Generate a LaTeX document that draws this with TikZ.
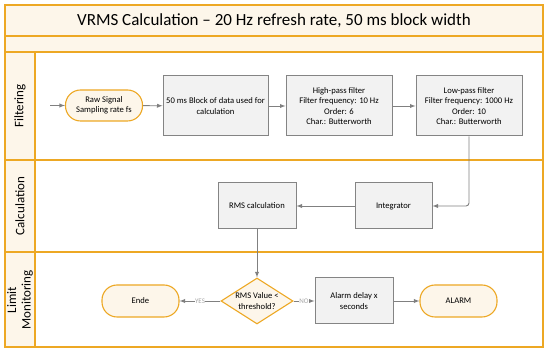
\documentclass[tikz,border=0pt]{standalone}
\usepackage{fontspec}
\setmainfont{Carlito}
\usetikzlibrary{shapes.geometric}
\definecolor{laneorange}{RGB}{237,168,36}
\definecolor{lanecream}{RGB}{253,246,234}
\definecolor{boxgrey}{RGB}{132,132,132}
\definecolor{boxfill}{RGB}{242,242,242}
\definecolor{arrowgrey}{RGB}{128,128,128}
\begin{document}
\begin{tikzpicture}[
      x=1pt,y=-1pt,
      every node/.style={font=\fontsize{8.6}{10.3}\selectfont,align=center},
      lane/.style={draw=laneorange,line width=1.4pt},
      lanelabel/.style={rotate=90,font=\fontsize{13}{14.5}\selectfont},
      procbox/.style={draw=boxgrey,fill=boxfill,line width=1pt,minimum width=#1,minimum height=60pt,inner sep=1pt},
      procbox/.default=105pt,
      pill/.style={draw=laneorange,fill=lanecream,line width=1.1pt,rounded corners=15pt,minimum width=77pt,minimum height=31pt},
      decision/.style={diamond,draw=laneorange,fill=lanecream,line width=1.1pt,minimum width=72pt,minimum height=46pt,inner sep=0pt},
      flow/.style={draw=arrowgrey,line width=0.9pt,-latex},
      answer/.style={font=\fontsize{7}{8}\selectfont,text=arrowgrey!70,fill=white,inner sep=0.5pt}
    ]
    \useasboundingbox (0,0) rectangle (550,352);
    % swimlane frame
    \fill[lanecream] (5,5) rectangle (543,52);
    \fill[lanecream] (5,52) rectangle (35,347);
    \draw[lane] (5,5) rectangle (543,347);
    \draw[lane] (5,36) -- (543,36);
    \draw[lane] (5,52) -- (543,52);
    \draw[lane] (5,160) -- (543,160);
    \draw[lane] (5,252) -- (543,252);
    \draw[lane] (35,52) -- (35,347);
    \node[font=\fontsize{17}{20}\selectfont] (title) at (274,20.5) {VRMS Calculation -- 20 Hz refresh rate, 50 ms block width};
    \node[lanelabel] (lanefilt) at (20,106) {Filtering};
    \node[lanelabel] (lanecalc) at (20,206) {Calculation};
    \node[lanelabel] (lanelim) at (20,300) {Limit\\Monitoring};
    % filtering
    \coordinate (in) at (50,105.5);
    \node[pill] (raw) at (104,105.5) {Raw Signal\\Sampling rate fs};
    \node[procbox] (block) at (215.5,106) {50 ms Block of data used for\\calculation};
    \node[procbox=106pt] (hp) at (339,106) {High-pass filter\\Filter frequency: 10 Hz\\Order: 6\\Char.: Butterworth};
    \node[procbox=106pt] (lp) at (469,106) {Low-pass filter\\Filter frequency: 1000 Hz\\Order: 10\\Char.: Butterworth};
    % calculation
    \node[procbox=77pt,minimum height=46pt] (integ) at (393.5,206) {Integrator};
    \node[procbox=78pt,minimum height=46pt] (rms) at (257,206) {RMS calculation};
    % limit monitoring
    \node[decision,label={[align=center]center:RMS Value <\\threshold?}] (thr) at (257,301) {};
    \node[pill,minimum height=32pt] (ende) at (140.5,301) {Ende};
    \node[procbox=78pt,minimum height=46pt] (delay) at (354,301) {Alarm delay x\\seconds};
    \node[pill,minimum height=32pt] (alarm) at (458.5,301) {ALARM};
    % connectors
    \draw[flow] (in) -- (raw);
    \draw[flow] (raw) -- (block);
    \draw[flow] (block) -- (hp);
    \draw[flow] (hp) -- (lp);
    \draw[flow,rounded corners=3pt] (lp.south) |- (integ.east);
    \draw[flow] (integ) -- (rms);
    \draw[flow] (rms) -- (thr);
    \draw[flow] (thr) -- node[answer] {YES} (ende);
    \draw[flow] (thr) -- node[answer] {NO} (delay);
    \draw[flow] (delay) -- (alarm);
\end{tikzpicture}
\end{document}
